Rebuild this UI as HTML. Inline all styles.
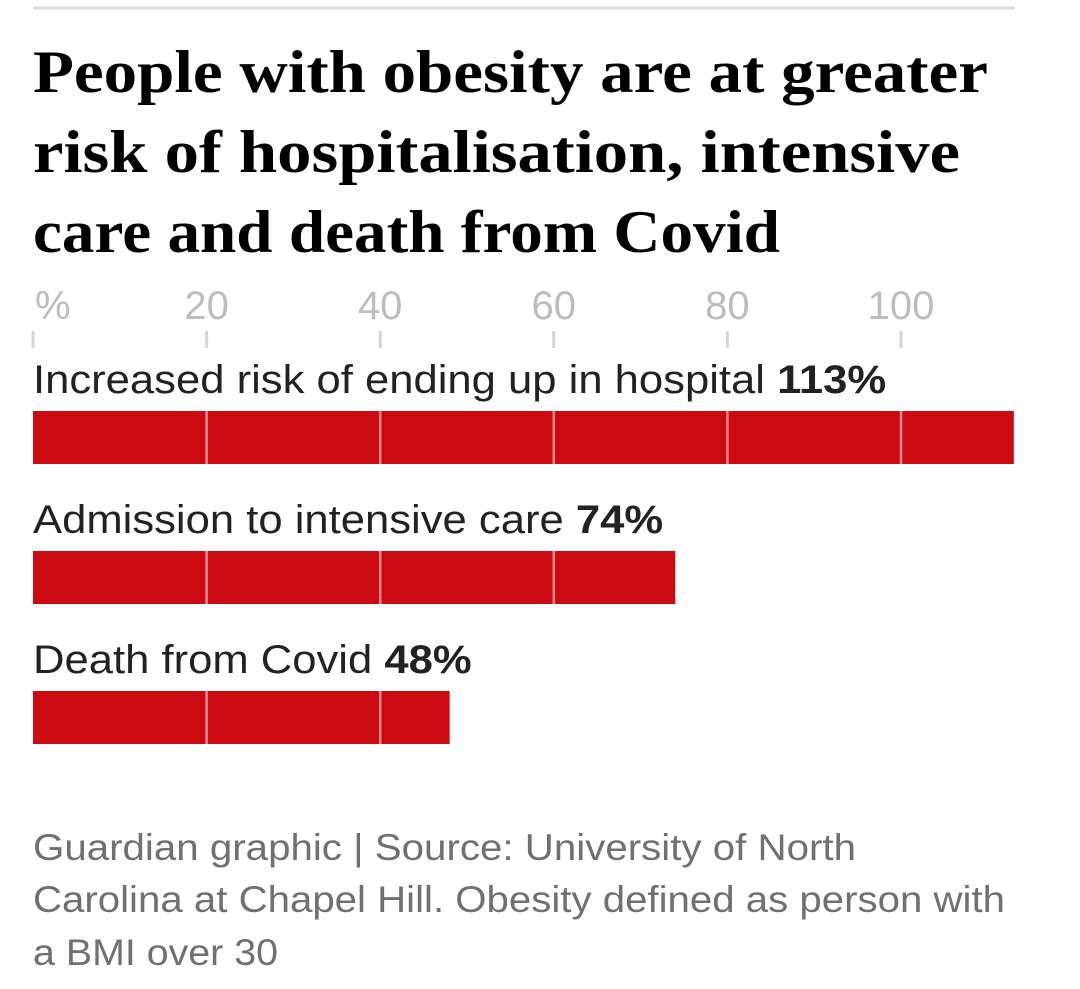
<!DOCTYPE html>
<html><head><meta charset="utf-8"><style>
html,body{margin:0;padding:0;background:#fff;width:1080px;height:989px;overflow:hidden}
svg{display:block}
</style></head><body>
<svg id="chart" width="1080" height="989" viewBox="0 0 1080 989">
<line x1="33" y1="8" x2="1015" y2="8" stroke="#dcdcdc" stroke-width="3"/>
<g font-family="Liberation Serif, serif" font-weight="bold" font-size="60" fill="#000">
<text x="33" y="92" textLength="955" lengthAdjust="spacingAndGlyphs">People with obesity are at greater</text>
<text x="33" y="172" textLength="927" lengthAdjust="spacingAndGlyphs">risk of hospitalisation, intensive</text>
<text x="33" y="252" textLength="747" lengthAdjust="spacingAndGlyphs">care and death from Covid</text>
</g>
<g id="axis"></g>
<g id="bars"></g>
<g font-family="Liberation Sans, sans-serif" font-size="37" fill="#707070">
<text x="33" y="860" textLength="823" lengthAdjust="spacingAndGlyphs">Guardian graphic | Source: University of North</text>
<text x="33" y="912" textLength="972" lengthAdjust="spacingAndGlyphs">Carolina at Chapel Hill. Obesity defined as person with</text>
<text x="33" y="965" textLength="245" lengthAdjust="spacingAndGlyphs">a BMI over 30</text>
</g>
</svg>
<script>
const categories = ["Increased risk of ending up in hospital", "Admission to intensive care", "Death from Covid"];
const values = [113, 74, 48];
const valueLabels = ["113%", "74%", "48%"];
const tickValues = [0, 20, 40, 60, 80, 100];
const tickLabels = ["%", "20", "40", "60", "80", "100"];

const NS = "http://www.w3.org/2000/svg";
const x0 = 33, pxPerUnit = 8.68;
function xScale(v){ return x0 + v * pxPerUnit; }
function mk(tag, attrs){ const e = document.createElementNS(NS, tag); for (const k in attrs) e.setAttribute(k, attrs[k]); return e; }

const axis = document.getElementById("axis");
tickValues.forEach((t, i) => {
  const x = xScale(t);
  const lab = mk("text", {x: i === 0 ? x + 2 : x, y: 319, "text-anchor": i === 0 ? "start" : "middle", "font-family": "Liberation Sans, sans-serif", "font-size": "40", fill: "#bdbdbd"});
  lab.textContent = tickLabels[i];
  
  
  axis.appendChild(lab);
  const tk = mk("line", {x1: x, x2: x, y1: 331, y2: 348, stroke: "#d6d6d6", "stroke-width": 3});
  
  
  axis.appendChild(tk);
});

const bars = document.getElementById("bars");
categories.forEach((c, i) => {
  const top = 411 + i * 140;
  const lab = mk("text", {x: x0, y: top - 18, "font-family": "Liberation Sans, sans-serif", "font-size": "40", fill: "#222"});
  lab.textContent = c + " ";
  const b = mk("tspan", {"font-weight": "bold"});
  b.textContent = valueLabels[i];
  lab.appendChild(b);
  
  
  bars.appendChild(lab);
  const w0 = lab.getComputedTextLength();
  lab.setAttribute("textLength", (w0 * 1.09).toFixed(1));
  lab.setAttribute("lengthAdjust", "spacingAndGlyphs");
  const r = mk("rect", {x: x0, y: top, width: xScale(values[i]) - x0, height: 53, fill: "#cc0a11"});
  
  
  bars.appendChild(r);
  tickValues.forEach(t => {
    if (t > 0 && t < values[i]) {
      const g = mk("line", {x1: xScale(t), x2: xScale(t), y1: top, y2: top + 53, stroke: "#f08a8e", "stroke-width": 2.5});
      
      
      bars.appendChild(g);
    }
  });
});
</script>
</body></html>
